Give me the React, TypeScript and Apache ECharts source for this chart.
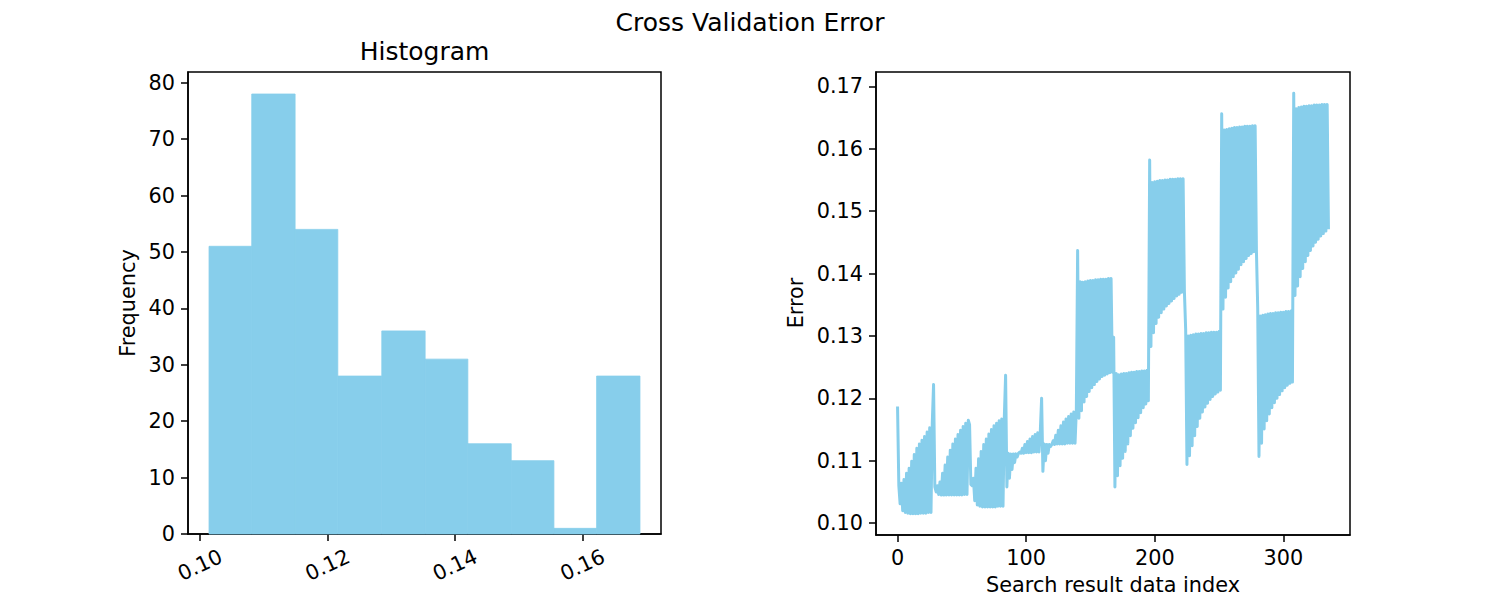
import React, { useEffect, useRef } from "react";
import * as echarts from "echarts";

// ---------- Histogram data ----------
const binEdges = [0.1014, 0.1081, 0.1149, 0.1216, 0.1285, 0.1353, 0.142, 0.1488, 0.1555, 0.1622, 0.169];
const binCounts = [51, 78, 54, 28, 36, 31, 16, 13, 1, 28];
const histXTicks = [0.1, 0.12, 0.14, 0.16];
const histYTicks = [0, 10, 20, 30, 40, 50, 60, 70, 80];

// ---------- Error line data (12 runs of 28 points, alternating flat / rising) ----------
const flatRuns = [
  [0.1187, 0.1031, 0.102, 0.1017, 0.1016, 0.1015, 0.1015, 0.1015, 0.1015, 0.1016, 0.1016, 0.1016, 0.1017, 0.1017],
  [0.1222, 0.105, 0.1046, 0.1045, 0.1045, 0.1045, 0.1045, 0.1045, 0.1045, 0.1045, 0.1045, 0.1045, 0.1046, 0.1046],
  [0.1158, 0.106, 0.1036, 0.1029, 0.1027, 0.1026, 0.1026, 0.1026, 0.1026, 0.1026, 0.1026, 0.1027, 0.1027, 0.1027],
  [0.1237, 0.1112, 0.1111, 0.1111, 0.1111, 0.1112, 0.1112, 0.1112, 0.1113, 0.1113, 0.1113, 0.1114, 0.1114, 0.1114],
  [0.12, 0.1127, 0.1126, 0.1126, 0.1126, 0.1126, 0.1127, 0.1127, 0.1127, 0.1127, 0.1128, 0.1128, 0.1128, 0.1128],
  [0.1437, 0.1387, 0.1386, 0.1387, 0.1388, 0.1389, 0.1389, 0.139, 0.139, 0.1391, 0.1391, 0.1391, 0.1392, 0.1392],
  [0.1298, 0.124, 0.1238, 0.1239, 0.124, 0.124, 0.1241, 0.1242, 0.1242, 0.1243, 0.1243, 0.1244, 0.1244, 0.1245],
  [0.1582, 0.1546, 0.1547, 0.1548, 0.1549, 0.1549, 0.155, 0.155, 0.1551, 0.1551, 0.1551, 0.1552, 0.1552, 0.1552],
  [0.131, 0.13, 0.1301, 0.1302, 0.1303, 0.1303, 0.1304, 0.1304, 0.1305, 0.1305, 0.1306, 0.1306, 0.1306, 0.1307],
  [0.1656, 0.163, 0.1631, 0.1632, 0.1633, 0.1634, 0.1634, 0.1635, 0.1635, 0.1636, 0.1636, 0.1636, 0.1637, 0.1637],
  [0.1345, 0.1332, 0.1333, 0.1334, 0.1335, 0.1336, 0.1336, 0.1337, 0.1337, 0.1338, 0.1338, 0.1339, 0.1339, 0.134],
  [0.1689, 0.1664, 0.1666, 0.1667, 0.1668, 0.1668, 0.1669, 0.1669, 0.167, 0.167, 0.167, 0.1671, 0.1671, 0.1671],
];
const risingRuns = [
  [0.106, 0.1064, 0.107, 0.108, 0.1088, 0.1099, 0.111, 0.112, 0.1127, 0.1133, 0.1139, 0.1146, 0.1153, 0.116],
  [0.1058, 0.106, 0.1066, 0.108, 0.1093, 0.1106, 0.1117, 0.1127, 0.1135, 0.1142, 0.1149, 0.1155, 0.116, 0.1165],
  [0.1062, 0.1072, 0.1088, 0.1103, 0.1115, 0.1126, 0.1135, 0.1143, 0.115, 0.1156, 0.116, 0.1164, 0.1167, 0.1169],
  [0.1058, 0.1072, 0.1086, 0.1097, 0.1106, 0.1114, 0.112, 0.1126, 0.1131, 0.1135, 0.1139, 0.1142, 0.1145, 0.1148],
  [0.1083, 0.11, 0.1112, 0.1123, 0.1132, 0.1141, 0.1149, 0.1156, 0.1162, 0.1167, 0.1171, 0.1175, 0.1178, 0.1181],
  [0.1168, 0.118, 0.1194, 0.1203, 0.1211, 0.1217, 0.1222, 0.1227, 0.1231, 0.1235, 0.1237, 0.1239, 0.1241, 0.1242],
  [0.1058, 0.1076, 0.1092, 0.1104, 0.1115, 0.1127, 0.114, 0.1152, 0.1161, 0.1169, 0.1177, 0.1185, 0.1191, 0.1196],
  [0.1283, 0.1305, 0.132, 0.133, 0.1337, 0.1343, 0.1348, 0.1352, 0.1356, 0.136, 0.1364, 0.1367, 0.137, 0.1372],
  [0.1094, 0.1108, 0.1124, 0.114, 0.1155, 0.1168, 0.1178, 0.1186, 0.1192, 0.1198, 0.1203, 0.1207, 0.121, 0.1213],
  [0.1343, 0.1362, 0.1377, 0.1387, 0.1395, 0.1401, 0.1407, 0.1414, 0.1419, 0.1424, 0.1429, 0.1432, 0.1435, 0.1437],
  [0.1107, 0.1128, 0.1151, 0.1164, 0.1175, 0.1185, 0.1193, 0.12, 0.1206, 0.1212, 0.1217, 0.1221, 0.1224, 0.1226],
  [0.1365, 0.138, 0.1395, 0.1408, 0.1419, 0.1429, 0.1437, 0.1444, 0.145, 0.1455, 0.146, 0.1464, 0.1468, 0.1471],
];
const errXTicks = [0, 100, 200, 300];
const errYTicks = [0.1, 0.11, 0.12, 0.13, 0.14, 0.15, 0.16, 0.17];

const SKY = "#87CEEB";
const FONT = "DejaVu Sans";
const TICK_FS = 20.8;
const LABEL_FS = 20.8;
const TITLE_FS = 25;

function buildErrorPoints(): number[][] {
  const pts: number[][] = [];
  let idx = 0;
  for (let b = 0; b < flatRuns.length; b++) {
    for (let k = 0; k < 28; k++) {
      const v = k % 2 === 0 ? flatRuns[b][k / 2] : risingRuns[b][(k - 1) / 2];
      pts.push([idx, v]);
      idx++;
    }
  }
  return pts;
}

function axisCommon(ticks: number[], fmt: (v: number) => string, extraLabel: any = {}) {
  return {
    type: "value",
    splitLine: { show: false },
    axisLine: { show: true, onZero: false, lineStyle: { color: "#000", width: 1.5 } },
    axisTick: { show: true, customValues: ticks, length: 7, lineStyle: { color: "#000", width: 1.5 } },
    axisLabel: {
      customValues: ticks,
      formatter: (v: number) => fmt(v),
      color: "#000",
      fontSize: TICK_FS,
      fontFamily: FONT,
      margin: 13,
      ...extraLabel,
    },
  };
}

export default function App() {
  const ref = useRef<HTMLDivElement>(null);
  useEffect(() => {
    if (!ref.current) return;
    const chart = echarts.init(ref.current, undefined, { renderer: "svg" });
    const errPts = buildErrorPoints();
    const histData = binCounts.map((c, i) => [binEdges[i], binEdges[i + 1], c]);

    const textStyle = (size: number) => ({ fill: "#000", fontSize: size, fontFamily: FONT, textAlign: "center", textVerticalAlign: "middle" });

    const option: any = {
      animation: false,
      backgroundColor: "#fff",
      grid: [
        { left: 188, top: 72, width: 473, height: 462, show: true, borderColor: "#000", borderWidth: 1.5, backgroundColor: "transparent" },
        { left: 876, top: 72, width: 474, height: 463, show: true, borderColor: "#000", borderWidth: 1.5, backgroundColor: "transparent" },
      ],
      xAxis: [
        {
          ...axisCommon(histXTicks, (v) => v.toFixed(2), { rotate: 25, align: "center", verticalAlign: "middle", margin: 31 }),
          gridIndex: 0,
          min: 0.0981,
          max: 0.1723,
        },
        {
          ...axisCommon(errXTicks, (v) => String(Math.round(v)), { margin: 12 }),
          gridIndex: 1,
          min: -16.75,
          max: 351.75,
        },
      ],
      yAxis: [
        {
          ...axisCommon(histYTicks, (v) => String(Math.round(v))),
          gridIndex: 0,
          min: 0,
          max: 81.9,
        },
        {
          ...axisCommon(errYTicks, (v) => v.toFixed(2)),
          gridIndex: 1,
          min: 0.0981,
          max: 0.1723,
        },
      ],
      series: [
        {
          type: "custom",
          xAxisIndex: 0,
          yAxisIndex: 0,
          data: histData,
          encode: { x: [0, 1], y: 2 },
          renderItem: (params: any, api: any) => {
            const p0 = api.coord([api.value(0), api.value(2)]);
            const p1 = api.coord([api.value(1), 0]);
            return {
              type: "rect",
              shape: { x: p0[0], y: p0[1], width: p1[0] - p0[0], height: p1[1] - p0[1] },
              style: { fill: SKY, stroke: SKY, lineWidth: 0.8 },
            };
          },
        },
        {
          type: "line",
          xAxisIndex: 1,
          yAxisIndex: 1,
          data: errPts,
          symbol: "none",
          showSymbol: false,
          lineStyle: { color: SKY, width: 3, join: "round" },
        },
      ],
      graphic: [
        { type: "text", x: 750, y: 22, style: { text: "Cross Validation Error", ...textStyle(TITLE_FS) } },
        { type: "text", x: 424.5, y: 51, style: { text: "Histogram", ...textStyle(TITLE_FS) } },
        { type: "text", x: 128, y: 303, rotation: Math.PI / 2, style: { text: "Frequency", ...textStyle(LABEL_FS) } },
        { type: "text", x: 796, y: 303, rotation: Math.PI / 2, style: { text: "Error", ...textStyle(LABEL_FS) } },
        { type: "text", x: 1113, y: 585, style: { text: "Search result data index", ...textStyle(LABEL_FS) } },
      ],
    };
    chart.setOption(option);
    return () => chart.dispose();
  }, []);
  return <div ref={ref} style={{ position: "absolute", left: 0, top: 0, width: 1500, height: 600 }} />;
}
